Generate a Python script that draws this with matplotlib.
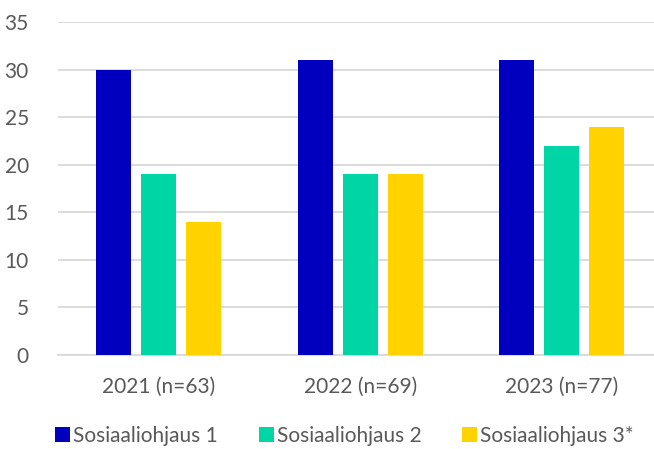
import matplotlib
matplotlib.use("Agg")
import matplotlib.pyplot as plt
import numpy as np
from matplotlib.patches import Patch

categories = ["2021 (n=63)", "2022 (n=69)", "2023 (n=77)"]
series_names = ["Sosiaaliohjaus 1", "Sosiaaliohjaus 2", "Sosiaaliohjaus 3*"]
s1 = [30, 31, 31]
s2 = [19, 19, 22]
s3 = [14, 19, 24]
colors = ["#0000BE", "#00D6A5", "#FFD200"]

plt.rcParams['font.family'] = ['Lato', 'DejaVu Sans']
W, H = 654, 449
fig = plt.figure(figsize=(W/100, H/100), dpi=100)
# axes: left 58px, right 662.5px (clipped), top 22px (y=35), bottom 355px (y=0)
ax = fig.add_axes([58/W, 1-355/H, (662.5-58)/W, (355-22)/H])

x = np.arange(len(categories))
bw = 35/201.5
step = 45/201.5
for i, (vals, c) in enumerate(zip([s1, s2, s3], colors)):
    ax.bar(x + (i-1)*step, vals, width=bw, color=c, zorder=3)

ax.set_xlim(-0.5, 2.5)
ax.set_ylim(0, 35)
ax.set_yticks(range(0, 36, 5))
ax.yaxis.grid(True, color="#D9D9D9", linewidth=1.3, zorder=0)
for s in ["top", "right", "left"]:
    ax.spines[s].set_visible(False)
ax.spines["bottom"].set_color("#D9D9D9")
ax.spines["bottom"].set_linewidth(1.3)
ax.set_xticks(x)
ax.set_xticklabels(categories)
ax.tick_params(axis="both", length=0, labelsize=15, colors="#595959")
ax.tick_params(axis="x", pad=15.5)
ax.tick_params(axis="y", pad=21)

handles = [Patch(facecolor=c) for c in colors]
fig.legend(handles, series_names, loc="center left", bbox_to_anchor=(55/W, 1-436/H),
           ncol=3, frameon=False, fontsize=15, labelcolor="#595959",
           handlelength=0.72, handleheight=0.72, handletextpad=0.15, columnspacing=1.95,
           borderaxespad=0, borderpad=0)

fig.savefig("out.png", dpi=100)
